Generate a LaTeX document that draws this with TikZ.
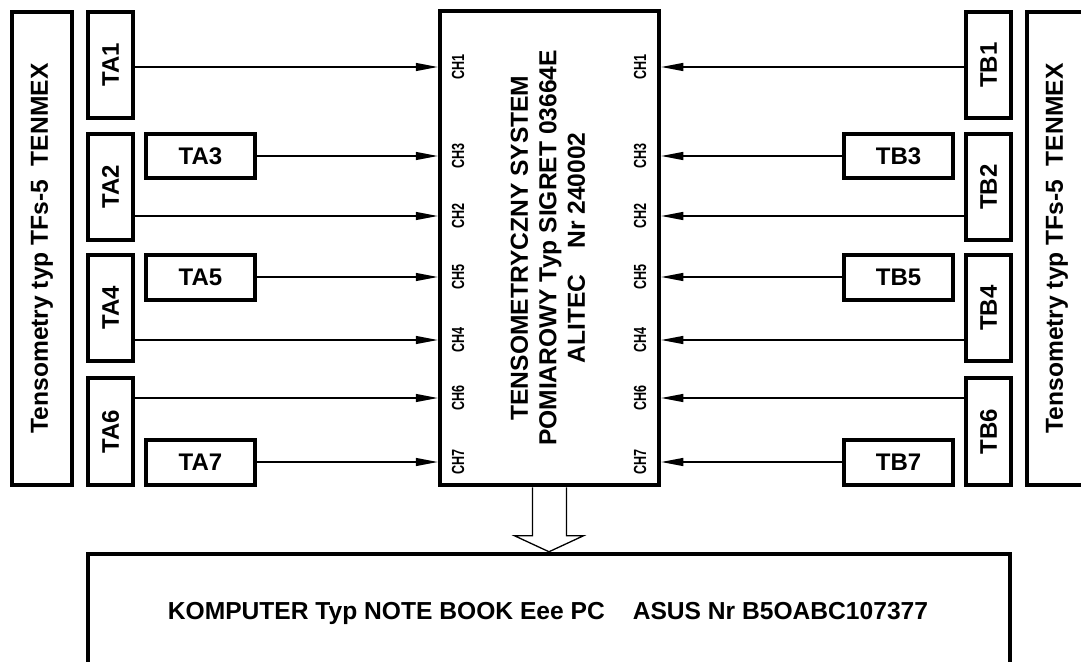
\documentclass[tikz,border=0pt]{standalone}
\usepackage{fontspec}
\setmainfont{Liberation Sans}
\usetikzlibrary{arrows.meta,calc}
\begin{document}
\begin{tikzpicture}[x=1pt,y=-1pt,
  bx/.style={draw, line width=4pt, inner sep=0pt, fill=white},
  big/.style={font=\fontsize{24.6}{28.5}\selectfont\bfseries},
  ta/.style={font=\fontsize{24}{24}\selectfont\bfseries},
  ch/.style={font=\fontsize{17.5}{17.5}\selectfont\bfseries, inner sep=0pt},
  arr/.style={line width=1.2pt, -{Triangle[length=22pt,width=8pt]}},
  hollow/.style={line width=1.3pt, fill=white, line join=miter}]
\clip (0,0) rectangle (1081,661);
\fill[white] (0,0) rectangle (1081,661);
\foreach \n/\y in {1/67,3/156,2/216,5/277,4/340,6/398,7/462} \coordinate (r\n) at (0,\y);

% left side
\node[bx, big, minimum width=60pt, minimum height=473pt] (LA) at (42,248.5) {\rotatebox{90}{Tensometry typ TFs-5\ \ TENMEX}};
\node[bx, ta, minimum width=45pt, minimum height=106pt] (TA1) at (110.5,65) {\rotatebox{90}{TA1}};
\node[bx, ta, minimum width=45pt, minimum height=106pt] (TA2) at (110.5,187) {\rotatebox{90}{TA2}};
\node[bx, ta, minimum width=45pt, minimum height=106pt] (TA4) at (110.5,308) {\rotatebox{90}{TA4}};
\node[bx, ta, minimum width=45pt, minimum height=107pt] (TA6) at (110.5,431.5) {\rotatebox{90}{TA6}};
\node[bx, ta, minimum width=109pt, minimum height=44pt] (TA3) at (200.5,156) {TA3};
\node[bx, ta, minimum width=109pt, minimum height=45pt] (TA5) at (200.5,277.5) {TA5};
\node[bx, ta, minimum width=109pt, minimum height=45pt] (TA7) at (200.5,462.5) {TA7};

% right side
\node[bx, big, minimum width=60pt, minimum height=473pt] (RB) at (1057,248.5) {\rotatebox{90}{Tensometry typ TFs-5\ \ TENMEX}};
\node[bx, ta, minimum width=45pt, minimum height=106pt] (TB1) at (988.5,65) {\rotatebox{90}{TB1}};
\node[bx, ta, minimum width=45pt, minimum height=106pt] (TB2) at (988.5,187) {\rotatebox{90}{TB2}};
\node[bx, ta, minimum width=45pt, minimum height=106pt] (TB4) at (988.5,308) {\rotatebox{90}{TB4}};
\node[bx, ta, minimum width=45pt, minimum height=107pt] (TB6) at (988.5,431.5) {\rotatebox{90}{TB6}};
\node[bx, ta, minimum width=109pt, minimum height=44pt] (TB3) at (898.5,156) {TB3};
\node[bx, ta, minimum width=109pt, minimum height=45pt] (TB5) at (898.5,277.5) {TB5};
\node[bx, ta, minimum width=109pt, minimum height=45pt] (TB7) at (898.5,462.5) {TB7};

% central system
\node[bx, line width=4.5pt, minimum width=219pt, minimum height=474pt] (SYS) at (549.5,248) {};
\node[big, rotate=90, align=center] (SYSt) at (548,248) {TENSOMETRYCZNY SYSTEM\\POMIAROWY Typ SIGRET 03664E\\ALITEC\hspace{26pt}Nr 240002};
\foreach \n/\y in {1/67,3/156,2/216,5/277,4/340,6/398,7/462} {
  \node[ch, rotate=90] (CL\n) at (458,\y) {\scalebox{0.72}[1]{CH\n}};
  \node[ch, rotate=90] (CR\n) at (640,\y) {\scalebox{0.72}[1]{CH\n}};
}

% computer
\node[bx, line width=4.5pt, minimum width=922pt, minimum height=166pt] (PC) at (549,637) {};
\node[big] (PCt) at (548,613) {KOMPUTER Typ NOTE BOOK Eee PC\hspace{28pt}ASUS Nr B5OABC107377};

% connectors
\draw[arr] (TA1.east |- r1) -- (SYS.west |- r1);
\draw[arr] (TA3.east |- r3) -- (SYS.west |- r3);
\draw[arr] (TA2.east |- r2) -- (SYS.west |- r2);
\draw[arr] (TA5.east |- r5) -- (SYS.west |- r5);
\draw[arr] (TA4.east |- r4) -- (SYS.west |- r4);
\draw[arr] (TA6.east |- r6) -- (SYS.west |- r6);
\draw[arr] (TA7.east |- r7) -- (SYS.west |- r7);
\draw[arr] (TB1.west |- r1) -- (SYS.east |- r1);
\draw[arr] (TB3.west |- r3) -- (SYS.east |- r3);
\draw[arr] (TB2.west |- r2) -- (SYS.east |- r2);
\draw[arr] (TB5.west |- r5) -- (SYS.east |- r5);
\draw[arr] (TB4.west |- r4) -- (SYS.east |- r4);
\draw[arr] (TB6.west |- r6) -- (SYS.east |- r6);
\draw[arr] (TB7.west |- r7) -- (SYS.east |- r7);

% hollow block arrow
\draw[hollow] ($(SYS.south)+(-17,0)$) |- ($(PC.north)+(-34.5,-16)$) -- (PC.north) -- ($(PC.north)+(34.5,-16)$) -| ($(SYS.south)+(17,0)$);
\end{tikzpicture}
\end{document}
